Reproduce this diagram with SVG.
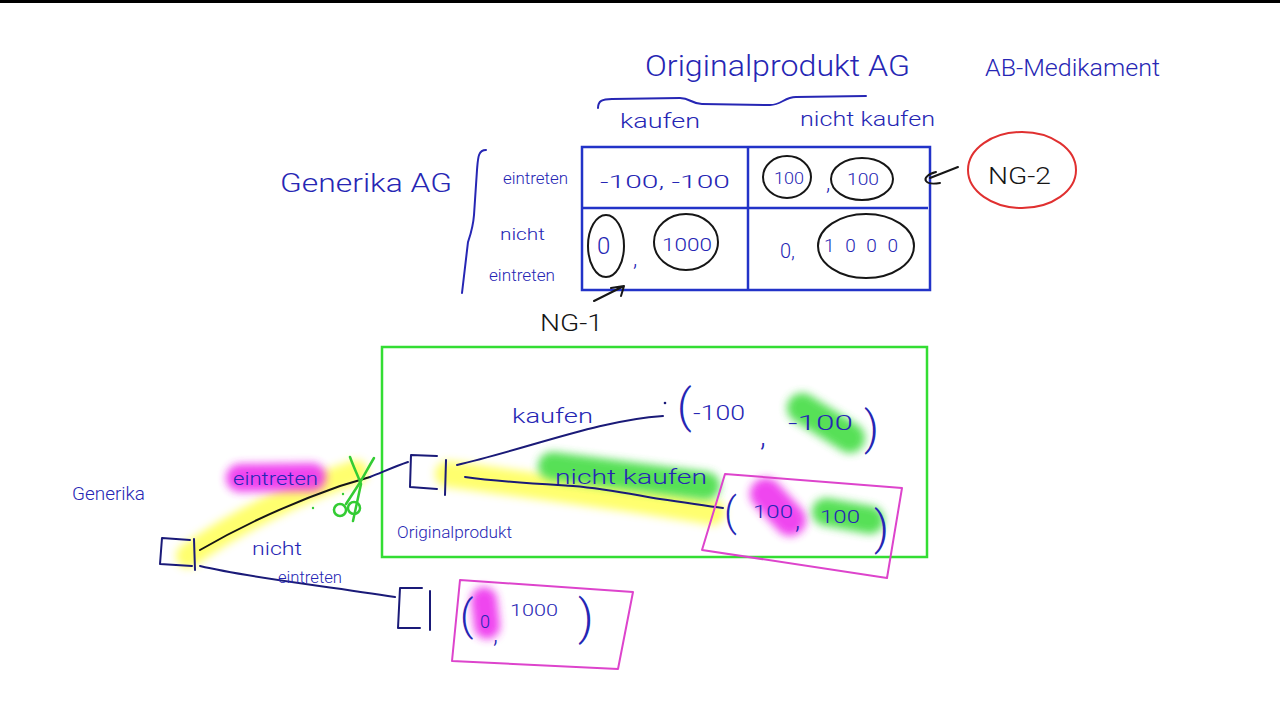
<svg xmlns="http://www.w3.org/2000/svg" width="1280" height="720" viewBox="0 0 1280 720">
<defs>
<style>
.hw{font-family:Roboto,"Liberation Sans","DejaVu Sans",sans-serif;font-weight:300;fill:#2626b4;}
.bk{font-family:Roboto,"Liberation Sans","DejaVu Sans",sans-serif;font-weight:300;fill:#161616;}
.pen{fill:none;stroke:#2626b4;stroke-width:2;stroke-linecap:round;stroke-linejoin:round;}
.navy{fill:none;stroke:#1a1a78;stroke-width:2;stroke-linecap:round;stroke-linejoin:round;}
.blk{fill:none;stroke:#161616;stroke-width:2;stroke-linecap:round;stroke-linejoin:round;}
.tbl{fill:none;stroke:#2233c8;stroke-width:2.5;}
.pink{fill:none;stroke:#dd44cc;stroke-width:2;stroke-linejoin:round;}
.grn{fill:none;stroke:#33cc33;stroke-width:2.5;stroke-linecap:round;}
.hl{fill:none;stroke-linecap:round;filter:url(#soft);}
</style>
<filter id="soft" filterUnits="userSpaceOnUse" x="0" y="0" width="1280" height="720"><feGaussianBlur stdDeviation="4"/></filter>
</defs>
<rect width="1280" height="720" fill="#ffffff"/>
<rect x="0" y="0" width="1280" height="3" fill="#000"/>

<!-- highlights -->
<g id="highlights">
<path class="hl" d="M188,556 C232,524 300,490 356,472" stroke="#ffff55" stroke-width="24" opacity="0.85"/>
<path class="hl" d="M448,474 C520,484 620,496 712,512" stroke="#ffff55" stroke-width="26" opacity="0.85"/>
<path class="hl" d="M240,478 L312,477" stroke="#ee33ee" stroke-width="28" opacity="0.9"/>
<path class="hl" d="M552,466 L706,486" stroke="#44dd44" stroke-width="28" opacity="0.9"/>
<path class="hl" d="M802,408 L850,438" stroke="#44dd44" stroke-width="30" opacity="0.9"/>
<path class="hl" d="M766,494 L790,520" stroke="#ee33ee" stroke-width="32" opacity="0.9"/>
<path class="hl" d="M826,512 L870,520" stroke="#44dd44" stroke-width="28" opacity="0.9"/>
<path class="hl" d="M484,600 L487,626" stroke="#ee33ee" stroke-width="26" opacity="0.9"/>
</g>

<!-- header -->
<g id="header">
<text class="hw" x="645" y="76" font-size="30" textLength="265" lengthAdjust="spacingAndGlyphs">Originalprodukt AG</text>
<text class="hw" x="985" y="76" font-size="24" textLength="175" lengthAdjust="spacingAndGlyphs">AB-Medikament</text>
<path class="pen" d="M598,108 C598,101 602,99 612,99 L680,98 C690,98 692,104 702,104 L770,105 C782,105 784,97 796,97 L866,96"/>
<text class="hw" x="620" y="128" font-size="20" textLength="80" lengthAdjust="spacingAndGlyphs">kaufen</text>
<text class="hw" x="800" y="126" font-size="20" textLength="135" lengthAdjust="spacingAndGlyphs">nicht kaufen</text>
<text class="hw" x="280" y="192" font-size="26" textLength="172" lengthAdjust="spacingAndGlyphs">Generika AG</text>
<path class="pen" d="M486,150 C478,150 478,158 477,170 L474,215 C473,228 470,236 468,242 L462,293"/>
<text class="hw" x="503" y="184" font-size="17" textLength="65" lengthAdjust="spacingAndGlyphs">eintreten</text>
<text class="hw" x="500" y="240" font-size="17" textLength="45" lengthAdjust="spacingAndGlyphs">nicht</text>
<text class="hw" x="489" y="281" font-size="17" textLength="66" lengthAdjust="spacingAndGlyphs">eintreten</text>
</g>

<!-- payoff table -->
<g id="table">
<rect class="tbl" x="582" y="147" width="348" height="143"/>
<line class="tbl" x1="582" y1="208" x2="928" y2="208"/>
<line class="tbl" x1="748" y1="147" x2="748" y2="290"/>
<text class="hw" x="600" y="188" font-size="19" textLength="130" lengthAdjust="spacingAndGlyphs">-100, -100</text>
<text class="hw" x="774" y="184" font-size="17" textLength="30" lengthAdjust="spacingAndGlyphs">100</text>
<ellipse class="blk" cx="787" cy="177" rx="24" ry="21"/>
<text class="hw" x="826" y="190" font-size="22">,</text>
<text class="hw" x="847" y="185" font-size="17" textLength="32" lengthAdjust="spacingAndGlyphs">100</text>
<ellipse class="blk" cx="862" cy="179" rx="31" ry="21"/>
<text class="hw" x="597" y="254" font-size="24">0</text>
<ellipse class="blk" cx="606" cy="246" rx="18" ry="31"/>
<text class="hw" x="633" y="266" font-size="22">,</text>
<text class="hw" x="662" y="251" font-size="18" textLength="50" lengthAdjust="spacingAndGlyphs">1000</text>
<ellipse class="blk" cx="686" cy="242" rx="32" ry="28"/>
<text class="hw" x="780" y="258" font-size="20">0,</text>
<text class="hw" x="824" y="252" font-size="19" textLength="74" lengthAdjust="spacing">1000</text>
<ellipse class="blk" cx="866" cy="246" rx="48" ry="32"/>
</g>

<!-- equilibrium markers -->
<g id="ng2">
<ellipse cx="1022" cy="170" rx="54" ry="38" fill="none" stroke="#e03030" stroke-width="2"/>
<text class="bk" x="988" y="184" font-size="24" textLength="63" lengthAdjust="spacingAndGlyphs">NG-2</text>
<path class="blk" d="M958,167 L930,178 M936,172 C928,174 924,178 926,181 C928,184 934,184 940,183"/>
</g>
<g id="ng1">
<text class="bk" x="540" y="331" font-size="24" textLength="63" lengthAdjust="spacingAndGlyphs">NG-1</text>
<path class="blk" d="M594,301 L622,287 M611,288 L624,286 L621,296"/>
</g>

<!-- subgame frame -->
<rect id="subgame" x="382" y="347" width="545" height="210" fill="none" stroke="#33dd33" stroke-width="2.5"/>

<!-- connectors -->
<g id="connectors">
<path class="blk" d="M200,550 C250,521 300,500 340,486 L370,477"/>
<path class="navy" d="M370,477 C385,471 396,466 408,462"/>
<path class="navy" d="M200,566 C250,578 320,585 395,597"/>
<path class="navy" d="M457,465 C530,448 600,420 663,416"/>
<path class="navy" d="M465,477 C500,482 540,484 573,486 C610,489 640,496 660,499 C690,503 705,506 723,508"/>
</g>

<!-- tree nodes -->
<g id="node-generika">
<path class="navy" d="M190,540 L162,538 L160,564 L192,566 M194,539 L195,570"/>
<text class="hw" x="72" y="500" font-size="19" textLength="73" lengthAdjust="spacingAndGlyphs">Generika</text>
</g>
<g id="node-original">
<path class="navy" d="M437,456 L411,455 L410,487 L437,489 M446,460 L445,495"/>
<text class="hw" x="397" y="538" font-size="17" textLength="115" lengthAdjust="spacingAndGlyphs">Originalprodukt</text>
</g>
<g id="node-end">
<path class="navy" d="M422,588 L400,588 L398,628 L420,628 M430,591 L430,630"/>
</g>

<!-- branch labels -->
<g id="labels">
<text class="hw" x="233" y="485" font-size="19" textLength="85" lengthAdjust="spacingAndGlyphs">eintreten</text>
<text class="hw" x="252" y="555" font-size="19" textLength="50" lengthAdjust="spacingAndGlyphs">nicht</text>
<text class="hw" x="278" y="583" font-size="16" textLength="64" lengthAdjust="spacingAndGlyphs">eintreten</text>
<text class="hw" x="512" y="423" font-size="20" textLength="81" lengthAdjust="spacingAndGlyphs">kaufen</text>
<text class="hw" x="555" y="484" font-size="20" textLength="152" lengthAdjust="spacingAndGlyphs">nicht kaufen</text>
</g>

<!-- scissors -->
<g id="scissors">
<path class="grn" d="M350,457 C354,468 358,476 361,484 L353,521"/>
<path class="grn" d="M374,458 C368,468 364,476 359,484 L346,504"/>
<circle class="grn" cx="340" cy="510" r="6"/>
<circle class="grn" cx="354" cy="508" r="6"/>
<circle cx="313" cy="508" r="1.2" fill="#33cc33"/>
<circle cx="343" cy="494" r="1.2" fill="#33cc33"/>
</g>

<!-- payoffs -->
<g id="payoff-kaufen">
<circle cx="665" cy="403" r="1.3" fill="#1a1a78"/>
<text class="hw" x="677" y="422" font-size="46">(</text>
<text class="hw" x="693" y="420" font-size="20" textLength="52" lengthAdjust="spacingAndGlyphs">-100</text>
<text class="hw" x="760" y="446" font-size="30">,</text>
<text class="hw" x="788" y="430" font-size="20" textLength="65" lengthAdjust="spacingAndGlyphs">-100</text>
<text class="hw" x="864" y="444" font-size="46">)</text>
</g>
<g id="payoff-nicht-kaufen">
<path class="pink" d="M725,474 L902,488 L887,578 L702,550 Z"/>
<text class="hw" x="724" y="526" font-size="40">(</text>
<text class="hw" x="753" y="518" font-size="18" textLength="40" lengthAdjust="spacingAndGlyphs">100</text>
<text class="hw" x="795" y="528" font-size="26">,</text>
<text class="hw" x="820" y="523" font-size="18" textLength="40" lengthAdjust="spacingAndGlyphs">100</text>
<text class="hw" x="874" y="544" font-size="46">)</text>
</g>
<g id="payoff-nicht-eintreten">
<path class="pink" d="M460,580 L633,592 L618,669 L452,661 Z"/>
<text class="hw" x="460" y="630" font-size="42">(</text>
<text class="hw" x="480" y="628" font-size="18">0</text>
<text class="hw" x="493" y="642" font-size="26">,</text>
<text class="hw" x="510" y="616" font-size="16" textLength="48" lengthAdjust="spacingAndGlyphs">1000</text>
<text class="hw" x="578" y="634" font-size="48">)</text>
</g>
</svg>
